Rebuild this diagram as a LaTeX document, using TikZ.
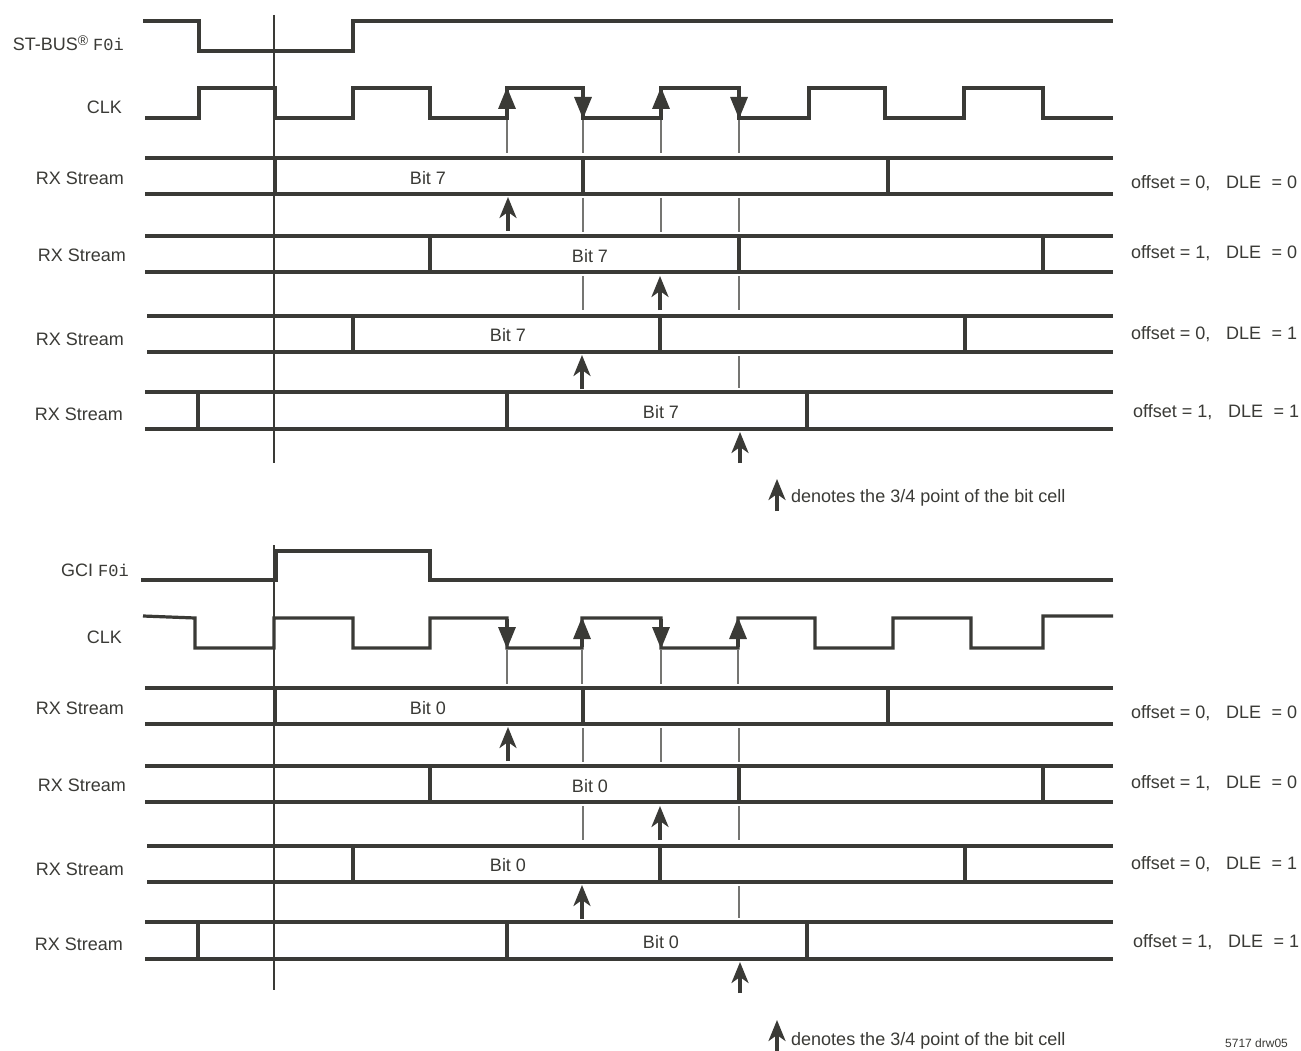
\documentclass[tikz,border=0pt]{standalone}
\usepackage{fontspec}
\setmainfont{Liberation Sans}
\newfontfamily\monof{Liberation Mono}
\usetikzlibrary{arrows.meta}
\definecolor{ink}{RGB}{58,58,54}
\newcommand\myfour[1]{%
  % stream 1
  \draw[sig] (145,158) -- (1113,158);
  \draw[sig] (145,194) -- (1113,194);
  \draw[sig] (275,158) -- (275,194) (583,158) -- (583,194) (888,158) -- (888,194);
  \node[lbl,anchor=east] (s1) at (124,178) {RX Stream};
  \node[lbl] (b1) at (428,178) {Bit #1};
  \node[lbl,anchor=west] (o1) at (1131,183) {offset = 0,\hspace{0.6em} DLE\hspace{0.3em} = 0};
  \draw[guide] (583,198) -- (583,232) (661,198) -- (661,232) (739,198) -- (739,232);
  \draw[qarr] (508,231) -- (508,197);
  % stream 2
  \draw[sig] (145,236) -- (1113,236);
  \draw[sig] (145,272) -- (1113,272);
  \draw[sig] (430,236) -- (430,272) (739,236) -- (739,272) (1043,236) -- (1043,272);
  \node[lbl,anchor=east] (s2) at (126,255) {RX Stream};
  \node[lbl] (b2) at (590,256) {Bit #1};
  \node[lbl,anchor=west] (o2) at (1131,253) {offset = 1,\hspace{0.6em} DLE\hspace{0.3em} = 0};
  \draw[guide] (583,276) -- (583,310) (739,276) -- (739,310);
  \draw[qarr] (660,310) -- (660,276);
  % stream 3
  \draw[sig] (147,316) -- (1113,316);
  \draw[sig] (147,352) -- (1113,352);
  \draw[sig] (353,316) -- (353,352) (660,316) -- (660,352) (965,316) -- (965,352);
  \node[lbl,anchor=east] (s3) at (124,339) {RX Stream};
  \node[lbl] (b3) at (508,335) {Bit #1};
  \node[lbl,anchor=west] (o3) at (1131,334) {offset = 0,\hspace{0.6em} DLE\hspace{0.3em} = 1};
  \draw[guide] (739,356) -- (739,388);
  \draw[qarr] (582,389) -- (582,355);
  % stream 4
  \draw[sig] (145,392) -- (1113,392);
  \draw[sig] (145,429) -- (1113,429);
  \draw[sig] (198,392) -- (198,429) (507,392) -- (507,429) (807,392) -- (807,429);
  \node[lbl,anchor=east] (s4) at (123,414) {RX Stream};
  \node[lbl] (b4) at (661,412) {Bit #1};
  \node[lbl,anchor=west] (o4) at (1133,412) {offset = 1,\hspace{0.6em} DLE\hspace{0.3em} = 1};
  \draw[qarr] (740,463) -- (740,432);
}
\begin{document}
\begin{tikzpicture}[x=1pt,y=-1pt,
  sig/.style={draw=ink,line width=3.2pt,line join=miter},
  guide/.style={draw=ink!70,line width=1.1pt},
  refl/.style={draw=ink,line width=1.1pt},
  edgearr/.style={draw=ink,line width=3.2pt,-{Triangle[length=22pt,width=17pt]}},
  qarr/.style={draw=ink,line width=3.2pt,-{Stealth[length=21pt,width=17pt,inset=6pt]}},
  lbl/.style={text=ink,font=\fontsize{18}{21}\selectfont,inner sep=0pt}
]
\useasboundingbox[fill=white] (0,0) rectangle (1301,1051);

% ===== top section =====
\draw[sig] (143,21) -- (199,21) -- (199,51) -- (353,51) -- (353,21) -- (1113,21);
\node[lbl,anchor=east] (fst) at (124,43) {ST-BUS\raisebox{0.55ex}{\fontsize{14}{16}\selectfont ®} {\fontsize{17}{20}\selectfont\monof F0i}};
\draw[refl] (274,15) -- (274,463);

\draw[sig] (145,118) -- (199,118) -- (199,88) -- (275,88) -- (275,118) -- (353,118) -- (353,88)
  -- (430,88) -- (430,118) -- (507,118) -- (507,88) -- (583,88) -- (583,118) -- (661,118)
  -- (661,88) -- (739,88) -- (739,118) -- (809,118) -- (809,88) -- (885,88) -- (885,118)
  -- (964,118) -- (964,88) -- (1043,88) -- (1043,118) -- (1113,118);
\node[lbl,anchor=east] (clk1) at (122,107) {CLK};
\draw[edgearr] (507,117) -- (507,87);
\draw[edgearr] (583,89) -- (583,119);
\draw[edgearr] (661,117) -- (661,87);
\draw[edgearr] (739,89) -- (739,119);
\draw[guide] (507,120) -- (507,153) (583,120) -- (583,153) (661,120) -- (661,153) (739,120) -- (739,153);

\begin{scope}[name prefix=t-]
\myfour{7}
\end{scope}

\draw[qarr] (777,511) -- (777,479);
\node[lbl,anchor=west] (leg1) at (791,498) {denotes the 3/4 point of the bit cell};

% ===== bottom section =====
\draw[sig] (141,580) -- (276,580) -- (276,551) -- (430,551) -- (430,580) -- (1113,580);
\node[lbl,anchor=east] (fgci) at (129,570) {GCI {\fontsize{17}{20}\selectfont\monof F0i}};
\draw[refl] (274,545) -- (274,990);

\draw[sig] (143,616) -- (195,618) -- (195,648) -- (274,648) -- (274,618) -- (353,618) -- (353,648)
  -- (430,648) -- (430,618) -- (507,618) -- (507,648) -- (582,648) -- (582,618) -- (661,618)
  -- (661,648) -- (738,648) -- (738,618) -- (815,618) -- (815,648) -- (893,648) -- (893,618)
  -- (971,618) -- (971,648) -- (1043,648) -- (1043,616) -- (1113,616);
\node[lbl,anchor=east] (clk2) at (122,637) {CLK};
\draw[edgearr] (507,619) -- (507,649);
\draw[edgearr] (582,647) -- (582,617);
\draw[edgearr] (661,619) -- (661,649);
\draw[edgearr] (738,647) -- (738,617);
\draw[guide] (507,650) -- (507,684) (582,650) -- (582,684) (661,650) -- (661,684) (738,650) -- (738,684);

\begin{scope}[name prefix=b-,shift={(0,530)}]
\myfour{0}
\end{scope}

\draw[qarr] (777,1051) -- (777,1020);
\node[lbl,anchor=west] (leg2) at (791,1041) {denotes the 3/4 point of the bit cell};
\node[text=ink,font=\fontsize{12}{14}\selectfont,inner sep=0pt,anchor=west] (drw) at (1225,1043) {5717 drw05};
\end{tikzpicture}
\end{document}
